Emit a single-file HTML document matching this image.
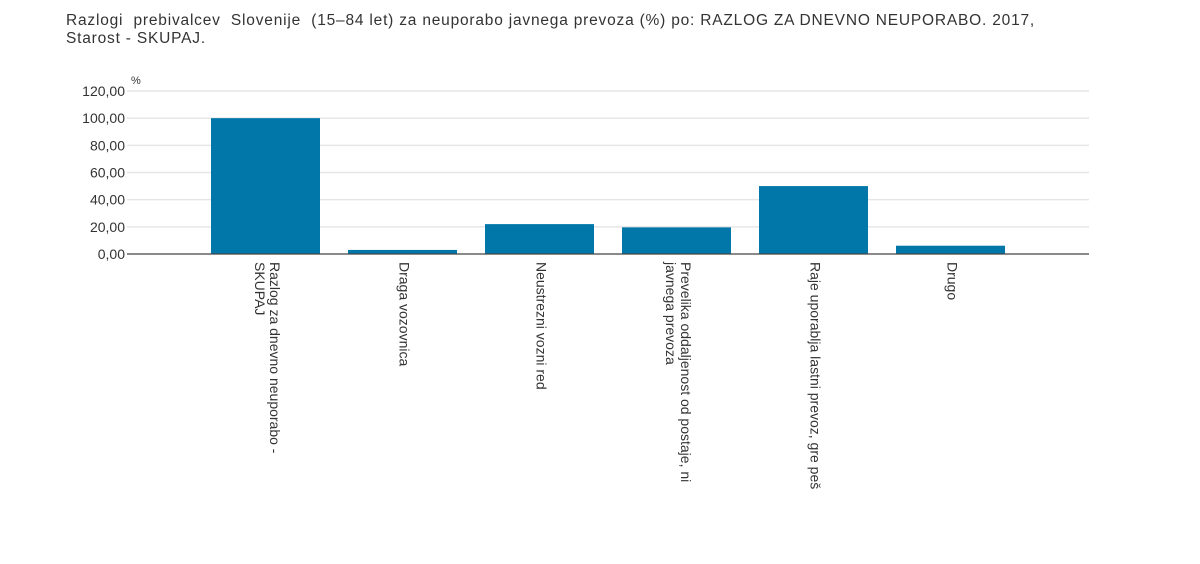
<!DOCTYPE html>
<html><head><meta charset="utf-8"><style>
body{margin:0;background:#fff;font-family:"Liberation Sans",Arial,sans-serif;}
#wrap{position:relative;width:1200px;height:564px;overflow:hidden;}
#title{position:absolute;left:66px;top:12px;font-size:15.5px;letter-spacing:0.8px;color:#333;line-height:18px;width:1100px;}
svg text{font-family:"Liberation Sans",Arial,sans-serif;fill:#333;}
</style></head><body>
<div id="wrap">
<div id="title">Razlogi&nbsp; prebivalcev&nbsp; Slovenije&nbsp; (15–84 let) za neuporabo javnega prevoza (%) po: RAZLOG ZA DNEVNO NEUPORABO. 2017,<br>Starost - SKUPAJ.</div>
<svg id="chart" width="1200" height="564" style="position:absolute;left:0;top:0"></svg>
</div>
<script>
const categories=[["Razlog za dnevno neuporabo -","SKUPAJ"],["Draga vozovnica"],["Neustrezni vozni red"],["Prevelika oddaljenost od postaje, ni","javnega prevoza"],["Raje uporablja lastni prevoz, gre peš"],["Drugo"]];
const values=[100,3.0,22,19.6,50,6.1];
const ticks=[0,20,40,60,80,100,120];
const tickLabels=["0,00","20,00","40,00","60,00","80,00","100,00","120,00"];

const svg=document.getElementById('chart');
const NS='http://www.w3.org/2000/svg';
const x0=127,x1=1089,yBase=254,yTop=91,yMax=120;
const y=v=>yBase-(yBase-yTop)*v/yMax;
const step=137,firstC=265.5,bw=109;
const xc=i=>firstC+i*step;
function mk(t,a){const e=document.createElementNS(NS,t);for(const k in a)e.setAttribute(k,a[k]);svg.appendChild(e);return e;}
ticks.forEach((t,i)=>{
  if(t>0){const g=mk('line',{x1:x0,x2:x1,y1:y(t),y2:y(t),stroke:'#e6e6e6','stroke-width':1.5});
  
  }
  const tx=mk('text',{x:125,y:y(t)+5,'text-anchor':'end','font-size':14});
  tx.textContent=tickLabels[i];
  
  
});
const u=mk('text',{x:131,y:84,'font-size':11});u.textContent='%';


values.forEach((v,i)=>{
  const r=mk('rect',{x:xc(i)-bw/2,y:y(v),width:bw,height:yBase-y(v),fill:'#0077a8'});
  
  
  const lines=categories[i];
  const n=lines.length;
  lines.forEach((l,j)=>{
    const lc=xc(i)+2+((n-1)/2-j)*15;
    const t=mk('text',{x:0,y:0,'font-size':14,transform:`translate(${lc-5},262) rotate(90)`});
    t.textContent=l;
    
    
  });
});
const ax=mk('line',{x1:x0,x2:x1,y1:yBase,y2:yBase,stroke:'#444','stroke-width':1.3});


</script>
</body></html>
